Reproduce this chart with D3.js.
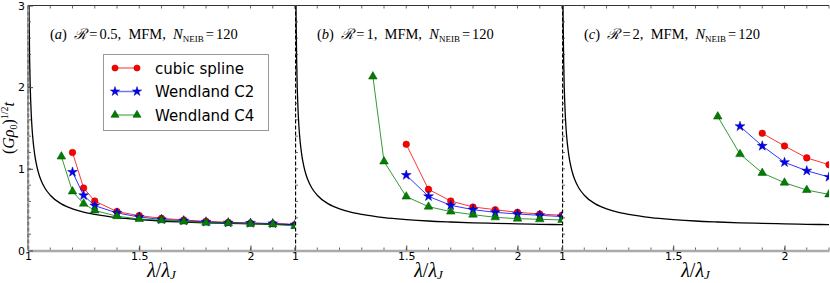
<!DOCTYPE html>
<html>
<head>
<meta charset="utf-8">
<script src="https://cdn.jsdelivr.net/npm/d3@7"></script>
<style>
  body { margin: 0; background: #fff; }
  svg { display: block; }
</style>
</head>
<body>
<div id="chart"></div>
<script>
// values
var panelTags = ["a", "b", "c"];
var ratioLabels = ["0.5", "1", "2"];
var seriesNames = ["cubic spline", "Wendland C2", "Wendland C4"];
var xTickValues = [1, 1.5, 2];
var yTickValues = [0, 1, 2, 3];

// panel (a)
var splineX_a = [1.2, 1.25, 1.3, 1.4, 1.5, 1.6, 1.7, 1.8, 1.9, 2.0, 2.1, 2.2];
var splineY_a = [1.20, 0.765, 0.606, 0.476, 0.427, 0.394, 0.374, 0.357, 0.345, 0.337, 0.329, 0.317];
var wc2X_a = [1.2, 1.25, 1.3, 1.4, 1.5, 1.6, 1.7, 1.8, 1.9, 2.0, 2.1, 2.2];
var wc2Y_a = [0.96, 0.675, 0.549, 0.46, 0.41, 0.38, 0.365, 0.35, 0.34, 0.335, 0.33, 0.315];
var wc4X_a = [1.15, 1.2, 1.25, 1.3, 1.4, 1.5, 1.6, 1.7, 1.8, 1.9, 2.0, 2.1, 2.2];
var wc4Y_a = [1.15, 0.723, 0.573, 0.49, 0.42, 0.386, 0.37, 0.354, 0.34, 0.335, 0.328, 0.322, 0.30];

// panel (b)
var splineX_b = [1.5, 1.6, 1.7, 1.8, 1.9, 2.0, 2.1, 2.2];
var splineY_b = [1.30, 0.748, 0.606, 0.533, 0.50, 0.467, 0.447, 0.431];
var wc2X_b = [1.5, 1.6, 1.7, 1.8, 1.9, 2.0, 2.1, 2.2];
var wc2Y_b = [0.923, 0.663, 0.553, 0.50, 0.467, 0.447, 0.431, 0.415];
var wc4X_b = [1.35, 1.4, 1.5, 1.6, 1.7, 1.8, 1.9, 2.0, 2.1, 2.2];
var wc4Y_b = [2.13, 1.09, 0.66, 0.537, 0.476, 0.439, 0.406, 0.39, 0.382, 0.374];

// panel (c)
var splineX_c = [1.9, 2.0, 2.1, 2.2];
var splineY_c = [1.435, 1.28, 1.134, 1.05];
var wc2X_c = [1.8, 1.9, 2.0, 2.1, 2.2];
var wc2Y_c = [1.52, 1.28, 1.08, 0.976, 0.90];
var wc4X_c = [1.7, 1.8, 1.9, 2.0, 2.1, 2.2];
var wc4Y_c = [1.64, 1.18, 0.95, 0.83, 0.74, 0.687];

// black analytic curve, same in every panel
var theoryX = [1.004, 1.005, 1.0075, 1.01, 1.015, 1.02, 1.03, 1.04, 1.05, 1.06, 1.075, 1.1, 1.15, 1.2, 1.25, 1.3, 1.4, 1.5, 1.6, 1.7, 1.8, 1.9, 2.0, 2.1, 2.2];
var theoryY = [3.16, 2.83, 2.32, 2.01, 1.647, 1.43, 1.178, 1.027, 0.925, 0.851, 0.769, 0.677, 0.571, 0.510, 0.470, 0.442, 0.403, 0.379, 0.361, 0.349, 0.339, 0.332, 0.326, 0.321, 0.317];

var colors = ["#ff0000", "#0000ff", "#008000"];
var edgeColors = ["#a00000", "#00008b", "#004d00"];
var symbols = [d3.symbolCircle, d3.symbolStar, d3.symbolTriangle];
var symbolSizes = [34, 30, 32];

function zip(xs, ys) { return xs.map(function(x, i) { return [x, ys[i]]; }); }

var panelData = [
  [zip(splineX_a, splineY_a), zip(wc2X_a, wc2Y_a), zip(wc4X_a, wc4Y_a)],
  [zip(splineX_b, splineY_b), zip(wc2X_b, wc2Y_b), zip(wc4X_b, wc4Y_b)],
  [zip(splineX_c, splineY_c), zip(wc2X_c, wc2Y_c), zip(wc4X_c, wc4Y_c)]
];
var theory = zip(theoryX, theoryY);

var svgWidth = 830, svgHeight = 283;
var left0 = 28, panelW = 267, plotTop = 5.5, plotBottom = 250.5;

var svg = d3.select("#chart").append("svg")
  .attr("width", svgWidth)
  .attr("height", svgHeight);

var y = d3.scaleLinear().domain([0, 3]).range([plotBottom, plotTop]);
var sans = "'DejaVu Sans', sans-serif";
var serif = "'Liberation Serif', 'DejaVu Serif', serif";

panelData.forEach(function(series, p) {
  var x0 = left0 + p * panelW;
  var x = d3.scaleLinear().domain([1, 2.2]).range([x0, x0 + panelW]);
  var g = svg.append("g");

  g.append("clipPath").attr("id", "clip" + p)
    .append("rect")
    .attr("x", x0).attr("y", plotTop)
    .attr("width", panelW).attr("height", plotBottom - plotTop);

  var plot = g.append("g").attr("clip-path", "url(#clip" + p + ")");

  // white background of this axes
  plot.append("rect")
    .attr("x", x0).attr("y", plotTop)
    .attr("width", panelW).attr("height", plotBottom - plotTop)
    .attr("fill", "#fff");

  // dashed line at lambda = lambda_J
  plot.append("line")
    .attr("x1", x(1) + 0.5).attr("x2", x(1) + 0.5)
    .attr("y1", plotTop).attr("y2", plotBottom)
    .attr("stroke", "#000").attr("stroke-width", 1.3)
    .attr("stroke-dasharray", "4,2");

  var line = d3.line()
    .x(function(d) { return x(d[0]); })
    .y(function(d) { return y(d[1]); });

  plot.append("path")
    .datum(theory)
    .attr("d", line.curve(d3.curveMonotoneX))
    .attr("fill", "none")
    .attr("stroke", "#000")
    .attr("stroke-width", 1.3);

  line.curve(d3.curveLinear);
  series.forEach(function(pts, s) {
    plot.append("path")
      .datum(pts)
      .attr("d", line)
      .attr("fill", "none")
      .attr("stroke", colors[s])
      .attr("stroke-opacity", 0.8)
      .attr("stroke-width", 1);

    plot.selectAll(".m" + s)
      .data(pts)
      .enter()
      .append("path")
      .attr("transform", function(d) { return "translate(" + x(d[0]) + "," + y(d[1]) + ")"; })
      .attr("d", d3.symbol().type(symbols[s]).size(symbolSizes[s]))
      .attr("fill", colors[s])
      .attr("stroke", edgeColors[s])
      .attr("stroke-width", 0.5);
  });

  // top spine
  g.append("line")
    .attr("x1", x0).attr("x2", x0 + panelW)
    .attr("y1", plotTop).attr("y2", plotTop)
    .attr("stroke", "#333").attr("stroke-width", 1);

  // ticks: inward, minor every 0.1 / 0.2
  var minorX = d3.range(1, 2.21, 0.1);
  var minorY = d3.range(0, 3.01, 0.2);
  var tickG = g.append("g").attr("stroke", "#444").attr("stroke-width", 0.8);
  minorX.forEach(function(v) {
    tickG.append("line").attr("x1", x(v)).attr("x2", x(v)).attr("y1", plotBottom).attr("y2", plotBottom - 3);
    tickG.append("line").attr("x1", x(v)).attr("x2", x(v)).attr("y1", plotTop).attr("y2", plotTop + 3);
  });
  minorY.forEach(function(v) {
    tickG.append("line").attr("x1", x0).attr("x2", x0 + 3).attr("y1", y(v)).attr("y2", y(v));
  });

  var xAxis = d3.axisBottom(x)
    .tickValues(xTickValues)
    .tickFormat(d3.format("~g"))
    .tickSizeInner(-5)
    .tickSizeOuter(0)
    .tickPadding(2);

  var xg = g.append("g")
    .attr("transform", "translate(0," + plotBottom + ")")
    .call(xAxis);
  xg.select(".domain").attr("stroke", "#aaa").attr("stroke-width", 2.5);
  xg.selectAll(".tick line").attr("stroke", "#444");
  xg.selectAll(".tick text")
    .attr("font-family", sans)
    .attr("font-size", 11)
    .attr("fill", "#000");

  // left spine (gray only on the first panel)
  if (p === 0) {
    g.append("line")
      .attr("x1", x0).attr("x2", x0)
      .attr("y1", plotTop).attr("y2", plotBottom)
      .attr("stroke", "#aaa").attr("stroke-width", 2);
    g.append("line")
      .attr("x1", x0).attr("x2", x0)
      .attr("y1", plotTop).attr("y2", plotBottom)
      .attr("stroke", "#555").attr("stroke-width", 1)
      .attr("stroke-dasharray", "4,2");
  }

  // x label
  var xl = g.append("text")
    .attr("x", x0 + panelW / 2)
    .attr("y", 277)
    .attr("text-anchor", "middle")
    .attr("font-family", serif)
    .attr("font-size", 20);
  xl.append("tspan").attr("font-style", "italic").text("λ");
  xl.append("tspan").text("/");
  xl.append("tspan").attr("font-style", "italic").text("λ");
  xl.append("tspan").attr("font-style", "italic").attr("font-size", 13).attr("dy", 2).text("J");

  // panel annotation
  var ann = g.append("text")
    .attr("x", x0 + 22)
    .attr("y", 39)
    .attr("font-family", serif)
    .attr("font-size", 14.5);
  ann.append("tspan").text("(");
  ann.append("tspan").attr("font-style", "italic").text(panelTags[p]);
  ann.append("tspan").text(")\u2002");
  ann.append("tspan").attr("font-style", "italic").text("\u211B");
  ann.append("tspan").attr("dx", 2).text("=");
  ann.append("tspan").attr("dx", 2).text(ratioLabels[p] + ",\u2002MFM,\u2002");
  ann.append("tspan").attr("font-style", "italic").text("N");
  ann.append("tspan").attr("font-size", 9).attr("dy", 3).text("NEIB");
  ann.append("tspan").attr("dy", -3).attr("dx", 2).text("=");
  ann.append("tspan").attr("dx", 2).text("120");

  if (p === 0) {
    var yAxis = d3.axisLeft(y)
      .tickValues(yTickValues)
      .tickFormat(d3.format("d"))
      .tickSizeInner(-5)
      .tickSizeOuter(0)
      .tickPadding(3);
    var yg = g.append("g")
      .attr("transform", "translate(" + x0 + ",0)")
      .call(yAxis);
    yg.select(".domain").remove();
    yg.selectAll(".tick line").attr("stroke", "#444");
    yg.selectAll(".tick text")
      .attr("font-family", sans)
      .attr("font-size", 11)
      .attr("fill", "#000");

    // y label
    var yl = svg.append("text")
      .attr("transform", "translate(14," + ((plotTop + plotBottom) / 2) + ") rotate(-90)")
      .attr("text-anchor", "middle")
      .attr("font-family", serif)
      .attr("font-size", 16);
    yl.append("tspan").text("(");
    yl.append("tspan").attr("font-style", "italic").text("Gρ");
    yl.append("tspan").attr("font-size", 10).attr("dy", 3).text("0");
    yl.append("tspan").attr("dy", -3).text(")");
    yl.append("tspan").attr("font-size", 10).attr("dy", -6).text("1/2");
    yl.append("tspan").attr("font-style", "italic").attr("dy", 6).text("t");

    // legend
    var lg = g.append("g");
    lg.append("rect")
      .attr("x", 103.5).attr("y", 54.5)
      .attr("width", 165).attr("height", 76)
      .attr("fill", "#fff")
      .attr("stroke", "#999")
      .attr("stroke-width", 1);
    seriesNames.forEach(function(name, s) {
      var ry = 68 + s * 23.5;
      lg.append("line")
        .attr("x1", 115).attr("x2", 137)
        .attr("y1", ry).attr("y2", ry)
        .attr("stroke", colors[s])
        .attr("stroke-opacity", 0.55)
        .attr("stroke-width", 1.5);
      [115, 137].forEach(function(mx) {
        lg.append("path")
          .attr("transform", "translate(" + mx + "," + ry + ")")
          .attr("d", d3.symbol().type(symbols[s]).size(symbolSizes[s] * 0.9))
          .attr("fill", colors[s])
          .attr("stroke", edgeColors[s])
          .attr("stroke-width", 0.5);
      });
      lg.append("text")
        .attr("x", 155)
        .attr("y", ry + 5.5)
        .attr("font-family", sans)
        .attr("font-size", 15)
        .text(name);
    });
  }
});
</script>
</body>
</html>
